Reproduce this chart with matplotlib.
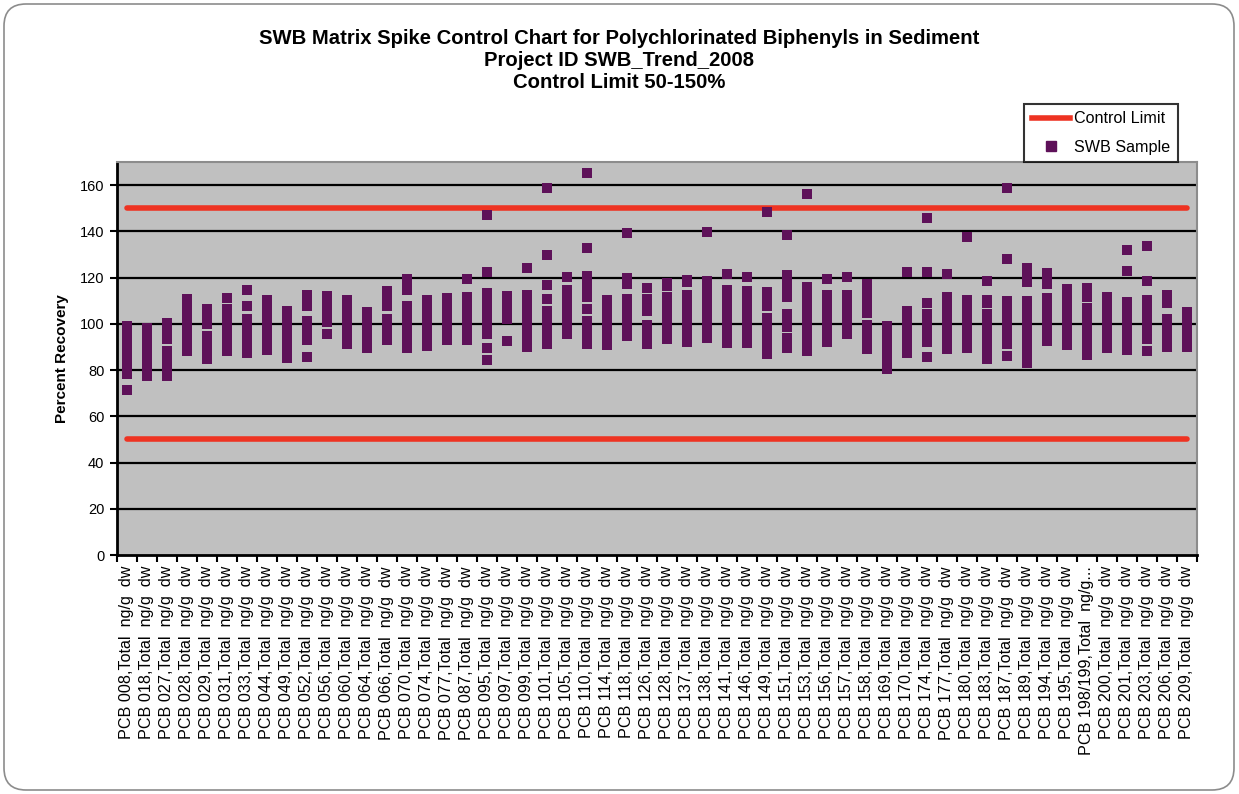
import matplotlib
matplotlib.use("Agg")
import matplotlib.pyplot as plt
from matplotlib.lines import Line2D
from matplotlib.patches import FancyBboxPatch
from matplotlib.transforms import IdentityTransform

plt.rcParams['font.family'] = ['Liberation Sans', 'DejaVu Sans']

# congeners on the x axis
congeners = ["008", "018", "027", "028", "029", "031", "033", "044", "049", "052",
             "056", "060", "064", "066", "070", "074", "077", "087", "095", "097",
             "099", "101", "105", "110", "114", "118", "126", "128", "137", "138",
             "141", "146", "149", "151", "153", "156", "157", "158", "169", "170",
             "174", "177", "180", "183", "187", "189", "194", "195", "198/199", "200",
             "201", "203", "206", "209"]
tick_labels = ["PCB %s,Total  ng/g  dw" % c for c in congeners]
tick_labels[congeners.index("198/199")] = "PCB 198/199,Total  ng/g..."

# percent recovery of every spiked sample, one list per congener
recovery = [
    [98.9, 95.6, 92.0, 88.7, 85.1, 81.6, 78.2, 71.2],
    [98.3, 94.8, 91.2, 87.9, 84.4, 81.0, 77.5],
    [100.4, 97.1, 93.5, 88.4, 84.9, 81.2, 77.5],
    [110.9, 107.4, 103.8, 100.2, 96.7, 93.1, 90.0, 88.2],
    [106.3, 102.9, 100.0, 94.8, 91.3, 88.0, 84.9],
    [111.2, 106.3, 102.8, 99.1, 95.4, 91.8, 88.2],
    [114.8, 107.7, 101.9, 98.4, 94.8, 91.1, 87.5],
    [110.2, 106.6, 103.1, 99.5, 95.9, 92.3, 88.8],
    [105.7, 102.1, 98.6, 95.0, 91.4, 88.0, 85.4],
    [112.6, 110.0, 107.5, 101.3, 97.4, 92.8, 85.8],
    [112.1, 108.3, 104.6, 100.7, 95.7],
    [110.5, 107.0, 103.4, 99.8, 96.2, 92.7, 91.2],
    [105.2, 101.6, 98.1, 94.5, 91.0, 89.5],
    [114.3, 110.9, 107.9, 101.9, 98.4, 95.0, 93.1],
    [119.5, 116.7, 114.8, 107.5, 104.0, 100.4, 96.8, 93.2, 89.5],
    [110.3, 106.8, 103.3, 99.7, 96.1, 92.6, 90.4],
    [111.0, 107.4, 103.8, 100.3, 96.7, 93.1],
    [119.2, 111.5, 107.9, 104.3, 100.7, 97.0, 93.1],
    [147.1, 122.4, 113.3, 109.7, 106.1, 102.5, 98.9, 95.4, 89.5, 84.5],
    [111.9, 108.5, 105.2, 102.2, 92.4],
    [124.0, 112.6, 109.0, 105.3, 101.6, 97.8, 94.0, 90.1],
    [158.8, 129.6, 117.0, 110.6, 105.4, 101.8, 98.4, 94.8, 91.4],
    [120.1, 114.6, 111.1, 107.5, 103.9, 100.3, 96.8, 95.4],
    [165.1, 133.0, 120.7, 117.9, 115.4, 113.0, 111.6, 106.2, 101.2, 97.7, 94.2, 91.4],
    [110.1, 106.5, 102.9, 99.3, 95.7, 92.2, 90.7],
    [139.3, 120.0, 117.1, 110.6, 107.0, 103.4, 99.8, 96.3, 94.9],
    [115.5, 110.6, 107.8, 105.5, 99.7, 96.2, 92.9, 91.4],
    [117.6, 116.5, 111.5, 107.9, 104.3, 100.7, 97.1, 93.5],
    [118.9, 117.9, 112.6, 109.0, 105.4, 101.8, 98.3, 94.7, 92.1],
    [139.7, 118.4, 114.8, 111.3, 107.8, 106.2, 101.9, 98.3, 94.0],
    [121.7, 114.6, 111.0, 107.4, 103.8, 100.2, 96.6, 93.0, 91.8],
    [120.4, 114.3, 110.7, 107.1, 103.5, 99.9, 96.3, 92.8, 91.8],
    [148.2, 113.6, 110.8, 107.9, 102.4, 98.8, 95.2, 91.6, 88.0, 87.1],
    [138.5, 121.2, 117.8, 114.5, 111.8, 104.3, 101.2, 98.6, 93.8, 89.7],
    [156.2, 116.1, 112.5, 108.9, 105.3, 101.7, 98.1, 94.6, 91.0, 88.2],
    [119.2, 112.6, 109.0, 105.4, 101.8, 98.3, 94.7, 92.1],
    [120.4, 112.6, 109.0, 105.4, 101.8, 98.3, 95.7],
    [117.2, 113.6, 110.0, 106.5, 104.7, 99.6, 96.0, 92.4, 89.2],
    [99.0, 95.4, 91.8, 88.2, 84.6, 80.6],
    [122.5, 105.7, 102.1, 98.5, 94.9, 91.7, 87.2],
    [145.8, 122.4, 109.0, 104.3, 100.6, 96.4, 92.0, 85.5],
    [121.7, 111.5, 107.9, 104.3, 100.7, 97.1, 93.5, 89.2],
    [137.7, 110.3, 106.7, 103.1, 99.5, 95.9, 92.3, 89.7],
    [118.7, 110.5, 108.9, 104.3, 100.7, 97.1, 93.5, 89.9, 86.3, 84.9],
    [158.8, 128.0, 109.8, 106.2, 102.6, 99.0, 95.4, 91.4, 86.1],
    [124.1, 121.0, 118.2, 109.8, 106.2, 102.6, 99.0, 95.4, 91.8, 88.2, 84.6, 83.1],
    [121.8, 119.5, 117.2, 111.0, 107.4, 103.8, 100.2, 96.6, 93.0, 92.4],
    [115.1, 111.5, 107.9, 104.3, 100.7, 97.1, 93.5, 91.0],
    [115.5, 111.8, 106.9, 103.3, 99.7, 96.1, 92.5, 88.9, 86.4],
    [111.5, 107.9, 104.3, 100.7, 97.1, 93.5, 89.5],
    [132.0, 122.8, 109.3, 105.7, 102.1, 98.5, 94.9, 92.8, 88.5],
    [133.7, 118.7, 110.3, 106.7, 103.1, 99.5, 95.9, 93.5, 88.4],
    [112.6, 108.9, 101.9, 98.3, 94.7, 91.1, 90.0],
    [105.3, 101.7, 98.1, 94.5, 91.0, 90.0],
]

lower_limit = 50
upper_limit = 150

PURPLE = "#5e1159"
RED = "#ee3322"

fig = plt.figure(figsize=(12.39, 7.94), dpi=100)

# rounded slide frame around the whole chart
frame = FancyBboxPatch((4, 4), 1230, 786, boxstyle="round,pad=0,rounding_size=22",
                       transform=IdentityTransform(), facecolor="none",
                       edgecolor="#8c8c8c", linewidth=1.2)
fig.add_artist(frame)

ax = fig.add_axes([0.0944, 0.301, 0.8716, 0.495])
ax.set_facecolor("#c0c0c0")

n = len(congeners)
xs = list(range(n))

for ypos in range(20, 170, 20):
    ax.axhline(ypos, color="black", linewidth=1.6, zorder=1)

ax.plot([0, n - 1], [upper_limit, upper_limit], color=RED, linewidth=4,
        solid_capstyle="round", zorder=2)
ax.plot([0, n - 1], [lower_limit, lower_limit], color=RED, linewidth=4,
        solid_capstyle="round", zorder=2)

for i, vals in enumerate(recovery):
    ax.plot([i] * len(vals), vals, linestyle="none", marker="s", markersize=7.5,
            color=PURPLE, markeredgewidth=0, zorder=3)

ax.set_xlim(-0.5, n - 0.5)
ax.set_ylim(0, 170)
ax.set_yticks(range(0, 161, 20))
ax.tick_params(axis="y", direction="out", length=5, width=1.5, labelsize=10.5, pad=4)

# ticks between categories, labels at the category centres
ax.set_xticks([i + 0.5 for i in range(-1, n)])
ax.set_xticklabels([])
ax.tick_params(axis="x", which="major", direction="out", length=5, width=1.5)
ax.set_xticks(xs, minor=True)
ax.set_xticklabels(tick_labels, minor=True, rotation=90, fontsize=11.6)
ax.tick_params(axis="x", which="minor", length=0, pad=8)

for side in ("left", "bottom"):
    ax.spines[side].set_linewidth(2)
    ax.spines[side].set_color("black")
for side in ("top", "right"):
    ax.spines[side].set_linewidth(1.5)
    ax.spines[side].set_color("#8c8c8c")

ax.set_ylabel("Percent Recovery", fontsize=11, fontweight="bold", labelpad=8)

fig.text(0.5, 0.963, "SWB Matrix Spike Control Chart for Polychlorinated Biphenyls in Sediment\n"
         "Project ID SWB_Trend_2008\nControl Limit 50-150%",
         ha="center", va="top", fontsize=14.6, fontweight="bold", linespacing=1.2)

handles = [Line2D([], [], color=RED, linewidth=4),
           Line2D([], [], linestyle="none", marker="s", markersize=7, color=PURPLE)]
leg = fig.legend(handles, ["Control Limit", "SWB Sample"], loc="upper right",
                 bbox_to_anchor=(0.957, 0.879), fontsize=11.6, frameon=True,
                 fancybox=False, edgecolor="black", handlelength=2.4,
                 labelspacing=0.85, borderpad=0.45, handletextpad=0.25)
leg.get_frame().set_linewidth(1.5)

fig.savefig("out.png", dpi=100, facecolor="white")
